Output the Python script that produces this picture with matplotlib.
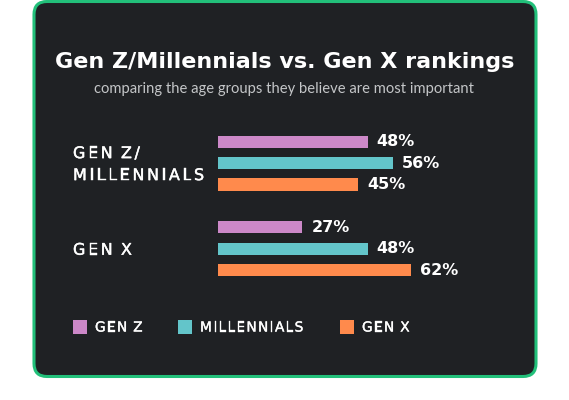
import matplotlib
matplotlib.use("Agg")
import matplotlib.pyplot as plt
import matplotlib.patheffects as pe
from matplotlib.patches import FancyBboxPatch, Rectangle
from matplotlib.text import Text
from matplotlib.font_manager import findfont, get_font
from matplotlib.transforms import IdentityTransform, Bbox, blended_transform_factory

# ---- data ----
groups = ["GEN Z/\nMILLENNIALS", "GEN X"]
series = ["GEN Z", "MILLENNIALS", "GEN X"]
colors = ["#cc88c8", "#63c5ca", "#ff8a4c"]
values = {
    "GEN Z": [48, 27],
    "MILLENNIALS": [56, 48],
    "GEN X": [45, 62],
}
title = "Gen Z/Millennials vs. Gen X rankings"
subtitle = "comparing the age groups they believe are most important"


class TrackedText(Text):
    """A single text artist drawn with extra letter spacing (tracking, px)."""

    def __init__(self, x, y, text, tracking=0.0, word_spacing=0.0,
                 line_gap=None, stroke=0.0, **kw):
        super().__init__(x, y, text, **kw)
        self._tracking = tracking
        self._word_spacing = word_spacing
        self._line_gap = line_gap
        self._stroke = stroke

    def _layout_chars(self):
        dpi = self.figure.dpi
        prop = self.get_fontproperties()
        font = get_font(findfont(prop))
        font.set_size(prop.get_size_in_points(), dpi)
        size_px = prop.get_size_in_points() * dpi / 72
        cap = font.load_char(ord("H")).height / 64
        gap = self._line_gap if self._line_gap is not None else 1.3 * size_px
        lines = self.get_text().split("\n")
        xd, yd = self.get_transform().transform((self._x, self._y))
        h = cap + (len(lines) - 1) * gap
        va = self.get_verticalalignment()
        if va == "center":
            top = yd + h / 2
        elif va == "baseline":
            top = yd + cap
        elif va == "top":
            top = yd
        else:
            top = yd + h
        out = []
        x_min, x_max = float("inf"), float("-inf")
        for i, line in enumerate(lines):
            advs = []
            for c in line:
                a = font.load_char(ord(c)).linearHoriAdvance / 65536
                if c == " ":
                    a += self._word_spacing
                advs.append(a)
            w = sum(advs) + self._tracking * max(len(line) - 1, 0)
            ha = self.get_horizontalalignment()
            x = xd - (w / 2 if ha == "center" else w if ha == "right" else 0)
            x_min, x_max = min(x_min, x), max(x_max, x + w)
            base = top - cap - i * gap
            for c, a in zip(line, advs):
                out.append((x, base, c))
                x += a + self._tracking
        bottom = top - h - 0.25 * size_px
        return out, Bbox.from_extents(x_min, bottom, x_max, top)

    def get_window_extent(self, renderer=None, dpi=None):
        return self._layout_chars()[1]

    def draw(self, renderer):
        if not self.get_visible() or not self.get_text():
            return
        chars, _ = self._layout_chars()
        for x, y, c in chars:
            if c == " ":
                continue
            t = Text(x, y, c, fontproperties=self.get_fontproperties(),
                     color=self.get_color(), ha="left", va="baseline",
                     transform=IdentityTransform())
            if self._stroke > 0:
                t.set_path_effects([pe.withStroke(linewidth=self._stroke,
                                                  foreground=self.get_color())])
            t.set_figure(self.figure)
            t.draw(renderer)
        self.stale = False


W, H = 569, 400
fig = plt.figure(figsize=(W / 100, H / 100), dpi=100)
fig.patch.set_facecolor("white")

# overlay axes in pixel coordinates
bg = fig.add_axes([0, 0, 1, 1])
bg.set_xlim(0, W)
bg.set_ylim(H, 0)
bg.axis("off")

card = FancyBboxPatch((34, 1.5), 502, 375,
                      boxstyle="round,pad=0,rounding_size=13",
                      facecolor="#1f2124", edgecolor="#22c07a", linewidth=2.2)
bg.add_patch(card)

bg.text(285, 61.5, title, ha="center", va="center", color="white",
        fontsize=16, fontweight="bold", family="DejaVu Sans")
bg.text(284, 89.5, subtitle, ha="center", va="center", color="#c4c6c8",
        fontsize=10.6, family="Lato")

# legend (manual, pixel positions)
leg_x = [73, 178, 340]
for s, c, x in zip(series, colors, leg_x):
    bg.add_patch(Rectangle((x, 319.5), 14.5, 14, facecolor=c, edgecolor="none"))
    t = TrackedText(x + 22, 326.5, s, tracking=1.3, word_spacing=-1.0,
                    stroke=0.25, ha="left", va="center",
                    color="white", fontsize=9.9, family="DejaVu Sans")
    bg.add_artist(t)

# bar axes
px_per_unit = 3.12
x_max = 70
left_px = 218
top_px = 131.0
row_px = 21.4
n_rows = 8
ax = fig.add_axes([left_px / W, 1 - (top_px + n_rows * row_px) / H,
                   x_max * px_per_unit / W, n_rows * row_px / H])
ax.patch.set_visible(False)
ax.set_xlim(0, x_max)
ax.set_ylim(n_rows - 0.5, -0.5)

for i, (s, c) in enumerate(zip(series, colors)):
    ys = [g * 4 + i for g in range(len(groups))]
    bars = ax.barh(ys, values[s], height=0.57, color=c)
    ax.bar_label(bars, labels=[f"{v}%" for v in values[s]], padding=6.5,
                 color="white", fontsize=11.5, fontweight="bold",
                 family="DejaVu Sans")

# group labels: x in pixels, y in bar-axes data units
lab_tr = blended_transform_factory(bg.transData, ax.transData)
for g, name in enumerate(groups):
    t = TrackedText(73, g * 4 + 1, name, tracking=2.6, word_spacing=-2.0,
                    line_gap=22, stroke=0.3,
                    ha="left", va="center", color="white", fontsize=11.5,
                    family="DejaVu Sans", transform=lab_tr)
    bg.add_artist(t)
    t.set_transform(lab_tr)

ax.set_yticks([])
ax.set_xticks([])
for sp in ax.spines.values():
    sp.set_visible(False)

fig.savefig("out.png", dpi=100, facecolor="white")
